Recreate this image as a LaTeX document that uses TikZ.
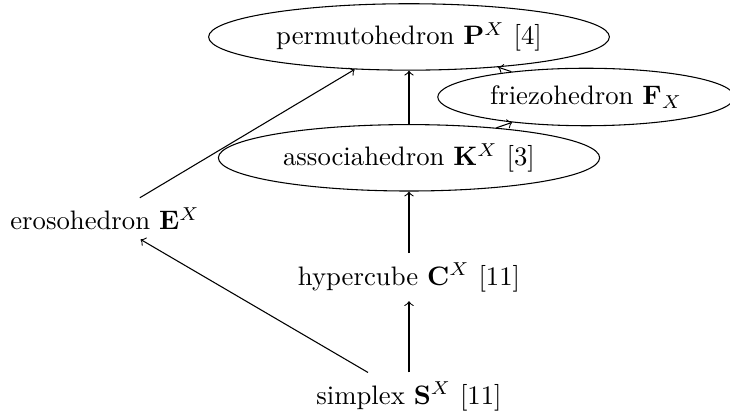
\documentclass[tikz,border=0pt]{standalone}
\usepackage{amsmath}
\usepackage{amssymb}
\usepackage{tikz}
\usetikzlibrary{positioning,shapes.geometric}

\begin{document}
\begin{tikzpicture}[
    on grid,
    node distance=1.57cm and 1.0cm,
    polytope/.style={
        ellipse,
        draw
    },
    plainpoly/.style={
        inner sep=3.33pt
    },
    arrow/.style={->}
]
    \useasboundingbox (-5.381,0.486) rectangle (4.223,-5.0);
    \node[polytope] (perm) at (0,0) {permutohedron $\mathbf{P}^X$ [4]};
    \node[polytope, below=1.59cm of perm] (assoc) {associahedron $\mathbf{K}^X$ [3]};
    \node[polytope, below right=0.79cm and 2.33cm of perm] (frieze) {friezohedron $\mathbf{F}_X$};
    \node[plainpoly, below=of assoc] (cube) {hypercube $\mathbf{C}^X$ [11]};
    \node[plainpoly, below=of cube] (simplex) {simplex $\mathbf{S}^X$ [11]};
    \node[plainpoly, below left=0.80cm and 4.0cm of assoc] (eroso) {erosohedron $\mathbf{E}^X$};

    \draw[arrow] (simplex) -- (cube);
    \draw[arrow] (cube) -- (assoc);
    \draw[arrow] (assoc) -- (perm);
    \draw[arrow] (assoc) -- (frieze);
    \draw[arrow] (frieze) -- (perm);
    \draw[arrow] (simplex) -- (eroso);
    \draw[arrow] (eroso) -- (perm);
\end{tikzpicture}
\end{document}
